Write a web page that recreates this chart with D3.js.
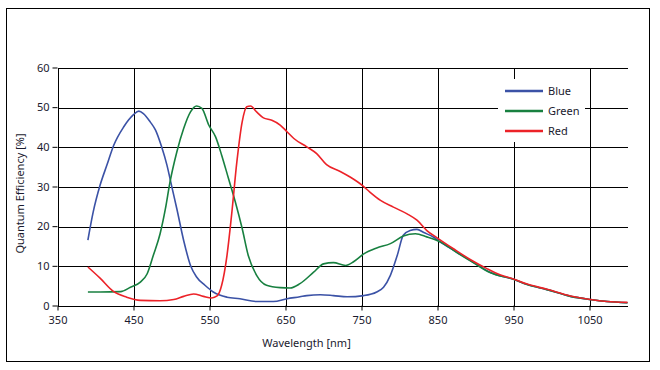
<!DOCTYPE html>
<html>
<head>
<meta charset="utf-8">
<script src="https://cdn.jsdelivr.net/npm/d3@7"></script>
<style>
  body { margin: 0; background: #fff; }
  svg { display: block; font-family: "Noto Sans", "Open Sans", sans-serif; }
  .tick-text { font-size: 11px; fill: #1a1a2e; font-family: "Noto Sans", sans-serif; }
  .axis-label { font-size: 11px; fill: #1a1a2e; }
  .grid-line { stroke: #000; stroke-width: 1; shape-rendering: crispEdges; }
  .qe-line { fill: none; stroke-width: 1.6; stroke-linejoin: round; }
</style>
</head>
<body>
<svg id="chart" width="660" height="370"></svg>
<script>
// ── QUANTUM EFFICIENCY CHART ──────────────────────────────────────────────

// data (wavelength nm, QE %)
const blueNm = [390, 397, 406, 415, 424, 437, 450, 457, 463, 472, 479, 487, 494, 500, 507, 516, 525, 533, 544, 555, 573, 590, 612, 634, 652, 669, 678, 696, 713, 731, 753, 770, 779, 788, 797, 805, 814, 823, 832, 845, 853, 875, 897, 919, 950, 968, 994, 1025, 1051, 1073, 1100];
const blueQE = [16.5, 23.6, 30.3, 35.4, 40.4, 45, 48.1, 49, 48.4, 46.3, 44.2, 40, 35.4, 30.3, 24.4, 16.4, 10.1, 7.2, 5.1, 3.4, 2.1, 1.7, 1.0, 1.0, 1.7, 2.2, 2.5, 2.7, 2.5, 2.2, 2.5, 3.4, 4.6, 7.6, 12.6, 17.7, 18.9, 19.2, 18.4, 17.2, 16.1, 13.5, 10.9, 8.4, 6.6, 5.3, 4.0, 2.3, 1.5, 1.0, 0.7];

const greenNm = [390, 406, 433, 446, 459, 468, 476, 485, 492, 498, 507, 516, 525, 533, 540, 549, 558, 566, 575, 584, 593, 601, 612, 625, 643, 656, 669, 687, 700, 713, 729, 740, 753, 770, 788, 805, 821, 836, 854, 875, 897, 919, 950, 968, 994, 1025, 1051, 1073, 1100];
const greenQE = [3.4, 3.4, 3.5, 4.6, 5.9, 8, 12.6, 18.1, 24.4, 31.1, 38.7, 44.6, 48.8, 50.3, 49.7, 45.5, 42.5, 37.9, 32, 26.1, 19.4, 12.6, 7.6, 5.1, 4.5, 4.4, 5.5, 8.4, 10.5, 10.8, 10.1, 11.1, 13, 14.5, 15.6, 17.5, 18.1, 17.3, 16, 13.4, 10.8, 8.3, 6.6, 5.3, 4.0, 2.3, 1.5, 1.0, 0.7];

const redNm = [390, 406, 424, 441, 459, 485, 503, 516, 529, 542, 553, 560, 566, 573, 579, 586, 593, 599, 604, 612, 621, 632, 643, 652, 661, 678, 691, 704, 722, 735, 751, 761, 775, 792, 810, 823, 836, 850, 871, 893, 915, 933, 950, 968, 994, 1025, 1051, 1073, 1100];
const redQE = [9.7, 6.9, 3.5, 2.1, 1.3, 1.2, 1.5, 2.3, 2.9, 2.3, 1.9, 2.4, 5.1, 12.6, 22.7, 36.2, 46.3, 50.1, 50.3, 48.8, 47.3, 46.7, 45.5, 43.8, 42.1, 40, 38.3, 35.5, 33.8, 32.4, 30.3, 28.6, 26.5, 24.8, 23.1, 21.5, 18.9, 17, 14.3, 11.6, 9.3, 7.7, 6.7, 5.4, 4.1, 2.4, 1.5, 1.0, 0.8];

const seriesNames = ["Blue", "Green", "Red"];
const seriesColors = ["#3b52a6", "#188040", "#ec2228"];
const xTicks = [350, 450, 550, 650, 750, 850, 950, 1050];
const yTicks = [0, 10, 20, 30, 40, 50, 60];

const series = [
  { name: seriesNames[0], color: seriesColors[0], nm: blueNm, qe: blueQE },
  { name: seriesNames[1], color: seriesColors[1], nm: greenNm, qe: greenQE },
  { name: seriesNames[2], color: seriesColors[2], nm: redNm, qe: redQE },
];

const svg = d3.select("#chart");
const width = 660, height = 370;
const margin = { top: 67.5, right: 32.5, bottom: 64.5, left: 57.5 };
const innerWidth = width - margin.left - margin.right;
const innerHeight = height - margin.top - margin.bottom;

// outer frame
svg.append("rect")
  .attr("x", 6.5).attr("y", 8.5)
  .attr("width", 643).attr("height", 353)
  .attr("fill", "none").attr("stroke", "#000").attr("stroke-width", 1);

const xScale = d3.scaleLinear().domain([350, 1100]).range([0, innerWidth]);
const yScale = d3.scaleLinear().domain([0, 60]).range([innerHeight, 0]);

const group = svg.append("g")
  .attr("transform", `translate(${margin.left},${margin.top})`);

// Y axis: ticks + horizontal grid
const yAxis = group.append("g")
  .call(d3.axisLeft(yScale).tickValues(yTicks).tickSize(5).tickPadding(3).tickFormat(d3.format("d")));
yAxis.select(".domain").remove();
yAxis.selectAll(".tick line").attr("stroke", "#000");
yAxis.selectAll("text").attr("class", "tick-text");
group.append("g")
  .selectAll("line")
  .data(yTicks)
  .join("line")
  .attr("class", "grid-line")
  .attr("x1", 0).attr("x2", innerWidth)
  .attr("y1", (d) => Math.round(yScale(d)) + 0.5)
  .attr("y2", (d) => Math.round(yScale(d)) + 0.5);

// X axis: ticks + vertical grid
const xAxis = group.append("g")
  .attr("transform", `translate(0,${innerHeight})`)
  .call(d3.axisBottom(xScale).tickValues(xTicks).tickSize(5).tickPadding(6).tickFormat(d3.format("d")));
xAxis.select(".domain").remove();
xAxis.selectAll(".tick line").attr("stroke", "#000");
xAxis.selectAll("text").attr("class", "tick-text");
group.append("g")
  .selectAll("line")
  .data(xTicks)
  .join("line")
  .attr("class", "grid-line")
  .attr("x1", (d) => Math.round(xScale(d)) + 0.5)
  .attr("x2", (d) => Math.round(xScale(d)) + 0.5)
  .attr("y1", 0).attr("y2", innerHeight);

// Axis labels
group.append("text")
  .attr("class", "axis-label")
  .attr("x", 249)
  .attr("y", innerHeight + 41)
  .attr("text-anchor", "middle")
  .text("Wavelength [nm]");
group.append("text")
  .attr("class", "axis-label")
  .attr("transform", "rotate(-90)")
  .attr("x", -126)
  .attr("y", -34)
  .attr("text-anchor", "middle")
  .text("Quantum Efficiency [%]");

// curves
const lineGen = d3.line()
  .x((d) => xScale(d[0]))
  .y((d) => yScale(d[1]))
  .curve(d3.curveMonotoneX);

series.forEach((s) => {
  group.append("path")
    .attr("class", "qe-line")
    .attr("stroke", s.color)
    .attr("d", lineGen(s.nm.map((n, i) => [n, s.qe[i]])));
});

// legend with white background covering the grid
const legend = svg.append("g");
legend.append("rect")
  .attr("x", 498).attr("y", 79)
  .attr("width", 87).attr("height", 63)
  .attr("fill", "#fff");
series.forEach((s, i) => {
  const ly = 91 + i * 20;
  legend.append("line")
    .attr("x1", 505).attr("x2", 543)
    .attr("y1", ly).attr("y2", ly)
    .attr("stroke", s.color).attr("stroke-width", 2.5);
  legend.append("text")
    .attr("class", "tick-text")
    .attr("x", 548).attr("y", ly + 4)
    .text(s.name);
});
</script>
</body>
</html>
